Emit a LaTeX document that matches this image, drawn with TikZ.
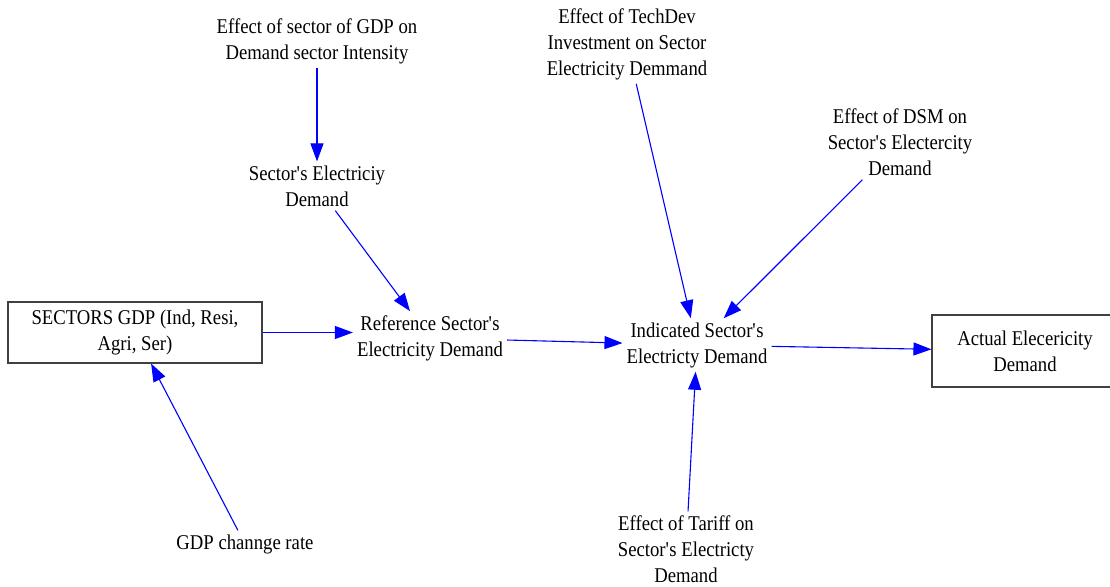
\documentclass[tikz,border=0pt]{standalone}
\usepackage{fontspec}
\setmainfont{Liberation Serif}[FakeStretch=0.89]
\usetikzlibrary{arrows.meta}
\newcommand{\apos}{\textquotesingle}
\tikzset{
  lbl/.style={align=center, inner sep=4pt, font=\fontsize{21}{26}\selectfont},
  boxnode/.style={draw=black!75, line width=1.1pt, align=center, inner sep=0pt, font=\fontsize{21}{26}\selectfont},
  link/.style={draw={rgb,255:red,0;green,0;blue,255}, line width=1.1pt,
    -{Triangle[length=18pt,width=13pt]}}
}
\begin{document}
\begin{tikzpicture}[x=1pt,y=-1pt]
\clip (0,0) rectangle (1110,586);
\useasboundingbox (0,0) rectangle (1110,586);
\node[boxnode, minimum width=254pt, minimum height=61pt] (sectors) at (135,332.5) {SECTORS GDP (Ind, Resi,\\Agri, Ser)};
\node[boxnode, minimum width=186pt, minimum height=72pt] (actual) at (1025,351) {Actual Elecericity\\Demand};
\node[lbl] (effgdp) at (317,41) {Effect of sector of GDP on\\Demand sector Intensity};
\node[lbl] (secelec) at (317,186) {Sector\apos s Electriciy\\Demand};
\node[lbl] (techdev) at (627,44) {Effect of TechDev\\Investment on Sector\\Electricity Demmand};
\node[lbl] (dsm) at (900,142) {Effect of DSM on\\Sector\apos s Electercity\\Demand};
\node[lbl] (ref) at (430,338) {Reference Sector\apos s\\Electricity Demand};
\node[lbl] (ind) at (697,345) {Indicated Sector\apos s\\Electricty Demand};
\node[lbl] (gdprate) at (245,544) {GDP channge rate};
\node[lbl] (tariff) at (686,549) {Effect of Tariff on\\Sector\apos s Electricty\\Demand};
\draw[link] (effgdp) -- (secelec);
\draw[link] (secelec) -- (ref);
\draw[link] (sectors.east) -- (ref.west |- sectors.east);
\draw[link] (gdprate) -- (sectors);
\draw[link] (ref) -- (ind);
\draw[link] (techdev) -- (ind);
\draw[link] (dsm) -- (ind);
\draw[link] (tariff) -- (ind);
\draw[link] (ind) -- (actual);
\end{tikzpicture}
\end{document}
